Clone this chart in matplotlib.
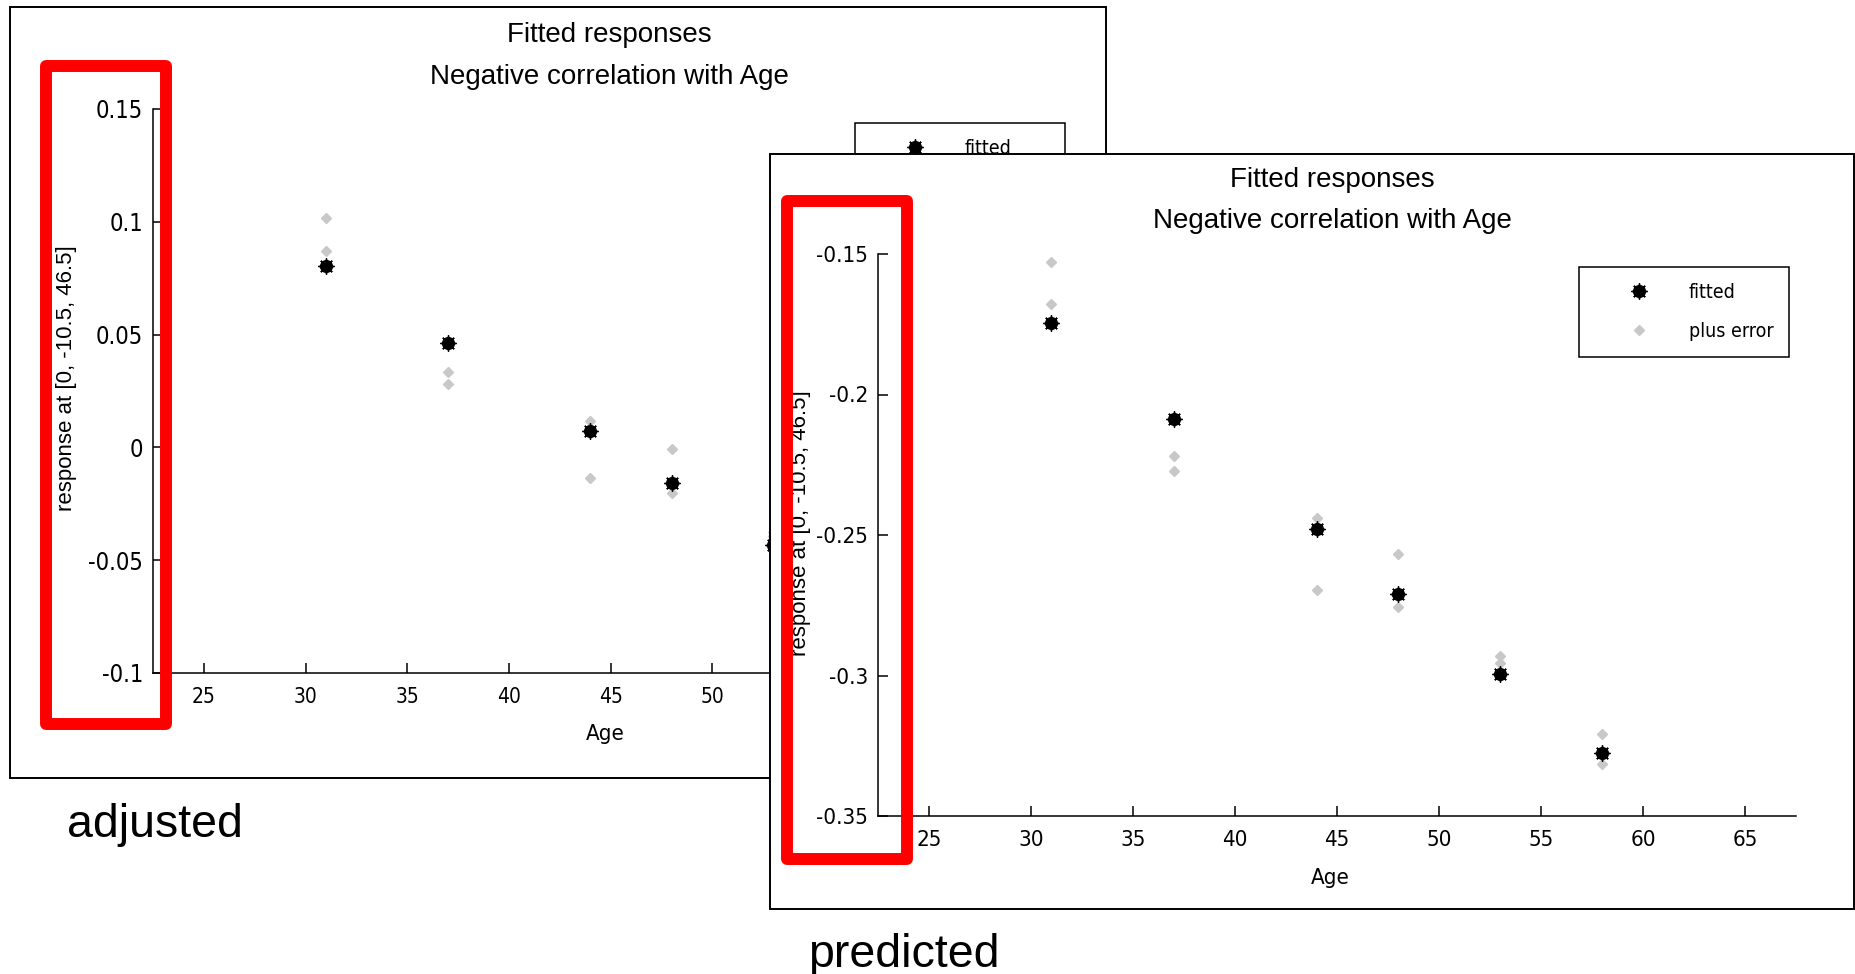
import matplotlib
matplotlib.use('Agg')
import os
import matplotlib.pyplot as plt
from matplotlib import font_manager as fm
from matplotlib.patches import Rectangle
from matplotlib.legend_handler import HandlerTuple

plt.rcParams['axes.unicode_minus'] = False

W, H = 1856, 974

# ---------------- data ----------------
ages = [31, 37, 44, 48, 53, 58]

adjusted_fitted = [0.0804, 0.0463, 0.0074, -0.0156, -0.0434, -0.0720]
adjusted_error_a = [0.1018, 0.0335, 0.0116, -0.0007, -0.0374, -0.0652]
adjusted_error_b = [0.0870, 0.0279, -0.0137, -0.0204, -0.0394, -0.0759]

predicted_fitted = [-0.1747, -0.2087, -0.2480, -0.2710, -0.2993, -0.3275]
predicted_error_a = [-0.1530, -0.2220, -0.2441, -0.2568, -0.2931, -0.3207]
predicted_error_b = [-0.1678, -0.2271, -0.2695, -0.2756, -0.2955, -0.3314]

x_ticks = [25, 30, 35, 40, 45, 50, 55, 60, 65]
x_tick_labels = ['25', '30', '35', '40', '45', '50', '55', '60', '65']
adjusted_y_ticks = [-0.1, -0.05, 0, 0.05, 0.1, 0.15]
adjusted_y_tick_labels = ['-0.1', '-0.05', '0', '0.05', '0.1', '0.15']
predicted_y_ticks = [-0.35, -0.3, -0.25, -0.2, -0.15]
predicted_y_tick_labels = ['-0.35', '-0.3', '-0.25', '-0.2', '-0.15']

title_lines = ['Fitted responses', 'Negative correlation with Age']
x_label = 'Age'
y_label = 'response at [0, -10.5, 46.5]'
legend_labels = ['fitted', 'plus error']
captions = ['adjusted', 'predicted']

# ---------------- fonts ----------------
names = {f.name for f in fm.fontManager.ttflist}
REG = 'Liberation Sans' if 'Liberation Sans' in names else 'DejaVu Sans'


def find_narrow():
    files = [f.fname for f in fm.fontManager.ttflist]
    prefs = ['LiberationSansNarrow-Regular', 'DejaVuSansCondensed.',
             'NotoSans-Condensed.', 'NotoSans-CondensedRegular',
             'Roboto-Condensed', 'RobotoCondensed-Regular',
             'OpenSans-CondensedRegular', 'OpenSans_Condensed-Regular',
             'OpenSansCondensed-Regular']
    for p in prefs:
        for fn in files:
            if p.lower() in os.path.basename(fn).lower():
                return fn
    for fn in files:
        b = os.path.basename(fn).lower()
        if ('narrow' in b or 'condensed' in b) and 'bold' not in b \
                and 'italic' not in b and 'semi' not in b and 'extra' not in b \
                and 'light' not in b and 'medium' not in b and 'black' not in b \
                and 'thin' not in b and 'mono' not in b and 'serif' not in b:
            return fn
    return None


NARROW_FILE = find_narrow()


def nfp(size):
    if NARROW_FILE:
        return fm.FontProperties(fname=NARROW_FILE, size=size)
    return fm.FontProperties(family=REG, size=size)


def rfp(size):
    return fm.FontProperties(family=REG, size=size)


GRAY = '#c8c8c8'

fig = plt.figure(figsize=(W / 100, H / 100), dpi=100)
fig.patch.set_facecolor('white')


def fx(x):
    return x / W


def fy(y):
    return 1 - y / H


def frac_rect(l, t, r, b):
    return [l / W, 1 - b / H, (r - l) / W, (b - t) / H]


def add_panel_frame(l, t, r, b, z):
    fig.add_artist(Rectangle((fx(l), fy(b)), (r - l) / W, (b - t) / H,
                             transform=fig.transFigure, facecolor='white',
                             edgecolor='black', linewidth=1.4, zorder=z))


def add_plot(rect_px, ylim, yticks, yticklabels, fitted, err_a, err_b, z,
             fs_x, fs_y, legend_px):
    ax = fig.add_axes(frac_rect(*rect_px), zorder=z)
    ax.patch.set_visible(False)
    ax.set_xlim(22.5, 67.5)
    ax.set_ylim(*ylim)
    for s in ['top', 'right']:
        ax.spines[s].set_visible(False)
    for s in ['left', 'bottom']:
        ax.spines[s].set_linewidth(1.1)
        ax.spines[s].set_color('black')
    ax.tick_params(direction='in', length=7, width=1.1, colors='black')
    ax.tick_params(axis='y', pad=7)
    ax.tick_params(axis='x', pad=10)
    ax.set_xticks(x_ticks)
    ax.set_xticklabels(x_tick_labels, fontproperties=nfp(fs_x))
    ax.set_yticks(yticks)
    ax.set_yticklabels(yticklabels, fontproperties=nfp(fs_y))

    g, = ax.plot(ages, err_a, linestyle='none', marker='D', ms=5.5,
                 color=GRAY, mec=GRAY, clip_on=False)
    ax.plot(ages, err_b, linestyle='none', marker='D', ms=5.5,
            color=GRAY, mec=GRAY, clip_on=False)
    l1, = ax.plot(ages, fitted, linestyle='none', marker='o', ms=8.5,
                  color='black', clip_on=False)
    l2, = ax.plot(ages, fitted, linestyle='none', marker=(8, 2, 0), ms=11.5,
                  mew=1.0, color='black', clip_on=False)

    leg = ax.legend([(l1, l2), g], legend_labels, loc='upper left',
                    bbox_to_anchor=(fx(legend_px[0]), fy(legend_px[1])),
                    bbox_transform=fig.transFigure, borderaxespad=0,
                    frameon=True, fancybox=False, edgecolor='black',
                    framealpha=1, prop=nfp(14),
                    handlelength=4.6, handletextpad=0.24, borderpad=0.8,
                    labelspacing=1.05, numpoints=1,
                    handler_map={tuple: HandlerTuple(ndivide=1)})
    leg.get_frame().set_linewidth(1.1)
    return ax


# ---------------- panel 1 : adjusted ----------------
add_panel_frame(10, 7, 1106, 778, 1)
add_plot((153, 109, 1068, 673), (-0.1, 0.15), adjusted_y_ticks,
         adjusted_y_tick_labels, adjusted_fitted, adjusted_error_a,
         adjusted_error_b, 2, 15, 17, (855, 123))
fig.text(fx(609), fy(42), title_lines[0], ha='center', va='baseline',
         fontproperties=rfp(20), zorder=2.5)
fig.text(fx(609), fy(84), title_lines[1], ha='center', va='baseline',
         fontproperties=rfp(20), zorder=2.5)
fig.text(fx(605), fy(734), x_label, ha='center', va='center',
         fontproperties=nfp(16), zorder=2.5)
fig.text(fx(67), fy(378), y_label, ha='center', va='center', rotation=90,
         fontproperties=rfp(16), zorder=2.5)

# ---------------- panel 2 : predicted ----------------
add_panel_frame(770, 154, 1854, 909, 3)
add_plot((878, 254, 1796, 816), (-0.35, -0.15), predicted_y_ticks,
         predicted_y_tick_labels, predicted_fitted, predicted_error_a,
         predicted_error_b, 4, 16, 16, (1579, 267))
fig.text(fx(1332), fy(187), title_lines[0], ha='center', va='baseline',
         fontproperties=rfp(20), zorder=4.5)
fig.text(fx(1332), fy(228), title_lines[1], ha='center', va='baseline',
         fontproperties=rfp(20), zorder=4.5)
fig.text(fx(1330), fy(878), x_label, ha='center', va='center',
         fontproperties=nfp(16), zorder=4.5)
fig.text(fx(801), fy(523), y_label, ha='center', va='center', rotation=90,
         fontproperties=rfp(16), zorder=4.5)

# ---------------- annotations ----------------
for (l, t, r, b) in [(46, 66, 166, 724), (787, 201, 907, 859)]:
    fig.add_artist(Rectangle((fx(l), fy(b)), (r - l) / W, (b - t) / H,
                             transform=fig.transFigure, facecolor='none',
                             edgecolor='#ff0000', linewidth=8.6,
                             joinstyle='round', zorder=6))

fig.text(fx(67), fy(837), captions[0], ha='left', va='baseline',
         fontproperties=rfp(33.5), zorder=6)
fig.text(fx(808), fy(967), captions[1], ha='left', va='baseline',
         fontproperties=rfp(33.5), zorder=6)

fig.savefig('out.png', dpi=100, facecolor='white')
